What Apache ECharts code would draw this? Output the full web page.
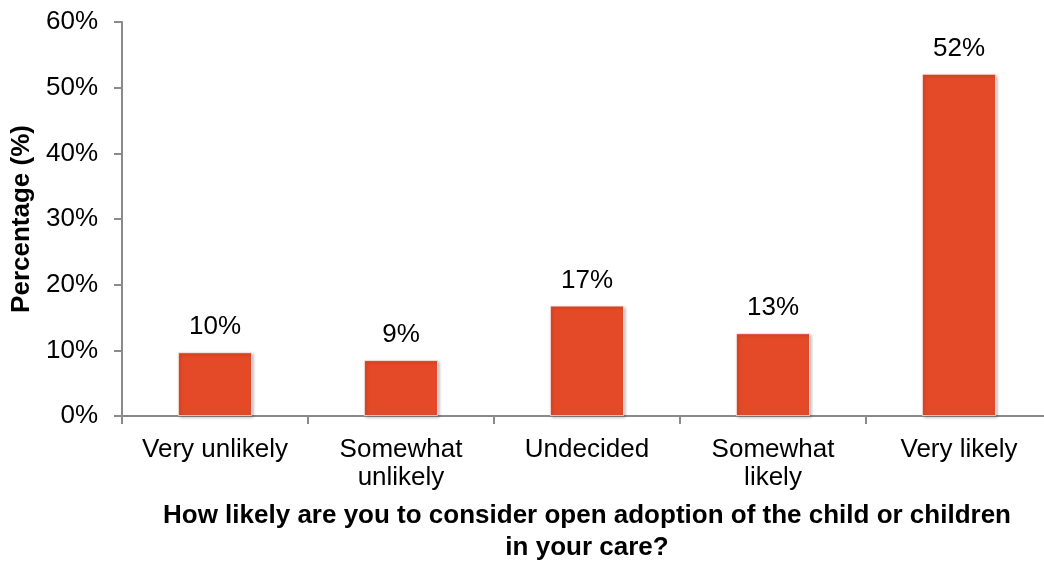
<!DOCTYPE html>
<html>
<head>
<meta charset="utf-8">
<script src="https://cdn.jsdelivr.net/npm/echarts@6/dist/echarts.min.js"></script>
<style>
  html, body { margin: 0; padding: 0; background: #fff; }
  #chart { width: 1044px; height: 562px; }
</style>
</head>
<body>
<div id="chart"></div>
<script>
// Survey responses: likelihood of considering open adoption
const categories = ['Very unlikely', 'Somewhat\nunlikely', 'Undecided', 'Somewhat\nlikely', 'Very likely'];
const percentages = [9.7, 8.5, 16.8, 12.6, 52.1];
const yTicks = [0, 10, 20, 30, 40, 50, 60];

const FONT = '"Liberation Sans", Arial, sans-serif';
const AXIS_GRAY = '#8a8a8a';
const FS = 26;

const chart = echarts.init(document.getElementById('chart'), null, { renderer: 'canvas' });

chart.setOption({
  animation: false,
  textStyle: { fontFamily: FONT },
  grid: { left: 122, top: 22, width: 930, height: 394, containLabel: false, outerBoundsMode: 'none' },
  xAxis: {
    type: 'category',
    data: categories,
    boundaryGap: true,
    name: 'How likely are you to consider open adoption of the child or children\nin your care?',
    nameLocation: 'middle',
    nameGap: 84,
    nameTextStyle: { fontFamily: FONT, fontSize: FS, fontWeight: 'bold', color: '#000', lineHeight: 32 },
    axisLine: { show: true, lineStyle: { color: AXIS_GRAY, width: 2 } },
    axisTick: { show: true, alignWithLabel: false, length: 8, lineStyle: { color: AXIS_GRAY, width: 2 } },
    axisLabel: { fontFamily: FONT, fontSize: FS, color: '#000', margin: 20, lineHeight: 28, interval: 0 },
    splitLine: { show: false }
  },
  yAxis: {
    type: 'value',
    min: yTicks[0],
    max: yTicks[yTicks.length - 1],
    interval: yTicks[1] - yTicks[0],
    name: 'Percentage (%)',
    nameLocation: 'middle',
    nameGap: 87,
    nameRotate: 90,
    nameTextStyle: { fontFamily: FONT, fontSize: FS, fontWeight: 'bold', color: '#000' },
    axisLine: { show: true, lineStyle: { color: AXIS_GRAY, width: 2 } },
    axisTick: { show: true, length: 8, lineStyle: { color: AXIS_GRAY, width: 2 } },
    axisLabel: { fontFamily: FONT, fontSize: FS, color: '#000', margin: 24, formatter: v => v + '%' },
    splitLine: { show: false }
  },
  series: [{
    type: 'bar',
    data: percentages,
    barWidth: 74,
    itemStyle: {
      color: '#E54A28',
      borderColor: '#f6f0ee',
      borderWidth: 0.8,
      shadowColor: 'rgba(0,0,0,0.35)',
      shadowBlur: 3,
      shadowOffsetX: 1.5,
      shadowOffsetY: 1.5
    },
    label: {
      show: true,
      position: 'top',
      distance: 12,
      fontFamily: FONT,
      fontSize: FS,
      color: '#000',
      formatter: p => Math.round(p.value) + '%'
    }
  }]
});
</script>
</body>
</html>
